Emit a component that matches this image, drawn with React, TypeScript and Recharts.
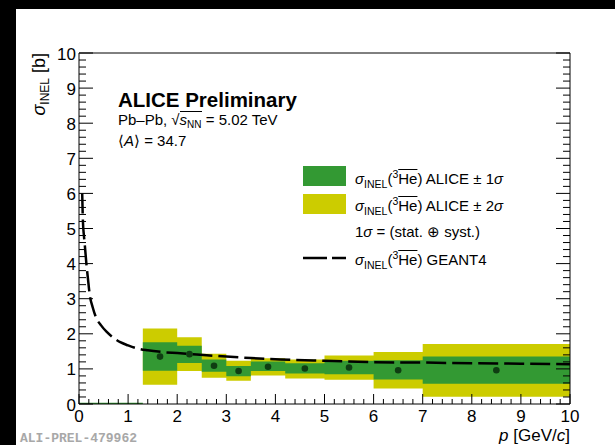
import React from 'react';
import { ComposedChart, XAxis, YAxis, Area, Line, Scatter, Legend } from 'recharts';

// ---------- data ----------
const binEdges = [1.3, 2.0, 2.5, 3.0, 3.5, 4.2, 5.0, 6.0, 7.0, 10.0];
const pointP = [1.65, 2.25, 2.75, 3.25, 3.85, 4.6, 5.5, 6.5, 8.5];
const sigmaValues = [1.35, 1.42, 1.09, 0.94, 1.06, 1.01, 1.04, 0.96, 0.96];
const band1Low = [0.95, 1.17, 0.92, 0.79, 0.94, 0.87, 0.85, 0.7, 0.58];
const band1High = [1.76, 1.66, 1.27, 1.08, 1.21, 1.16, 1.23, 1.25, 1.35];
const band2Low = [0.55, 0.94, 0.75, 0.66, 0.81, 0.73, 0.69, 0.44, 0.21];
const band2High = [2.15, 1.9, 1.43, 1.23, 1.3, 1.27, 1.38, 1.48, 1.71];

const geantP = [0.065, 0.08, 0.1, 0.12, 0.15, 0.18, 0.22, 0.28, 0.34, 0.45, 0.56, 0.7, 0.84, 1.0, 1.17, 1.4, 1.7, 2.0, 2.4, 3.0, 3.5, 4.1, 5.0, 5.5, 6.0, 7.0, 8.0, 9.0, 10.0];
const geantSigma = [6.0, 5.2, 4.8, 4.5, 4.0, 3.6, 3.1, 2.75, 2.49, 2.24, 2.06, 1.89, 1.76, 1.67, 1.59, 1.53, 1.48, 1.45, 1.41, 1.35, 1.31, 1.27, 1.23, 1.21, 1.19, 1.18, 1.16, 1.15, 1.13];

const emptyRangeP = [0, 1.3];
const emptyRangeValue = [0, 0];

const xMajorTicks = [0, 1, 2, 3, 4, 5, 6, 7, 8, 9, 10];
const yMajorTicks = [0, 1, 2, 3, 4, 5, 6, 7, 8, 9, 10];
const minorDivisions = 5;

// ---------- derived tables ----------
function withMinor(major: number[]) {
  const out: number[] = [];
  for (let i = 0; i < major.length; i++) {
    out.push(major[i]);
    if (i < major.length - 1) {
      const step = (major[i + 1] - major[i]) / minorDivisions;
      for (let k = 1; k < minorDivisions; k++) out.push(+(major[i] + k * step).toFixed(4));
    }
  }
  return out;
}
const xTicks = withMinor(xMajorTicks);
const yTicks = withMinor(yMajorTicks);

const bandRows = binEdges.map((p, i) => {
  const j = Math.min(i, sigmaValues.length - 1);
  return { p, one: [band1Low[j], band1High[j]], two: [band2Low[j], band2High[j]] };
});
const pointRows = pointP.map((p, i) => ({ p, s: sigmaValues[i] }));
const geantRows = geantP.map((p, i) => ({ p, s: geantSigma[i] }));
const emptyRows = emptyRangeP.map((p, i) => ({ p, s: emptyRangeValue[i] }));

// ---------- style ----------
const FONT = '"Liberation Sans", Arial, Helvetica, sans-serif';
const GREEN = '#339933';
const YELLOW = '#cccc00';
const DOT = '#0f3d12';

const isMajor = (v: number) => Math.abs(v - Math.round(v)) < 1e-6;

const BottomTick = (props: any) => {
  const { x, y, payload } = props;
  const v = payload.value;
  const major = isMajor(v);
  return (
    <g>
      <line x1={x} x2={x} y1={y} y2={y - (major ? 10 : 5)} stroke="#000" strokeWidth={1} />
      {major && (
        <text x={x} y={y + 18} textAnchor="middle" fontFamily={FONT} fontSize={17} fill="#000">
          {v}
        </text>
      )}
    </g>
  );
};
const TopTick = (props: any) => {
  const { x, y, payload } = props;
  const major = isMajor(payload.value);
  return <line x1={x} x2={x} y1={y} y2={y + (major ? 10 : 5)} stroke="#000" strokeWidth={1} />;
};
const LeftTick = (props: any) => {
  const { x, y, payload } = props;
  const v = payload.value;
  const major = isMajor(v);
  return (
    <g>
      <line x1={x} x2={x + (major ? 14 : 7)} y1={y} y2={y} stroke="#000" strokeWidth={1} />
      {major && (
        <text x={x - 3} y={y + 6.5} textAnchor="end" fontFamily={FONT} fontSize={17} fill="#000">
          {v}
        </text>
      )}
    </g>
  );
};
const RightTick = (props: any) => {
  const { x, y, payload } = props;
  const major = isMajor(payload.value);
  return <line x1={x} x2={x - (major ? 14 : 7)} y1={y} y2={y} stroke="#000" strokeWidth={1} />;
};

const sub = (t: string, size = 10.5, dy = 4) => (
  <span style={{ fontSize: size, position: 'relative', top: dy }}>{t}</span>
);
const sup = (t: string, size = 10.5, dy = -6) => (
  <span style={{ fontSize: size, position: 'relative', top: dy }}>{t}</span>
);

const HeLabel = ({ suffix }: { suffix: React.ReactNode }) => (
  <span>
    <i>σ</i>
    {sub('INEL')}(
    {sup('3')}
    <span style={{ textDecoration: 'overline' }}>He</span>) {suffix}
  </span>
);

const legendRow = (top: number, child: React.ReactNode) => (
  <div
    style={{
      position: 'absolute',
      left: 52,
      top,
      fontFamily: FONT,
      fontSize: 15,
      lineHeight: '15px',
      whiteSpace: 'nowrap',
      color: '#000',
    }}
  >
    {child}
  </div>
);

const LegendContent = () => (
  <div style={{ position: 'relative', width: 262, height: 112 }}>
    <div style={{ position: 'absolute', left: 0, top: 6, width: 43, height: 20, background: GREEN }} />
    <div style={{ position: 'absolute', left: 0, top: 34, width: 43, height: 20, background: YELLOW }} />
    <svg style={{ position: 'absolute', left: 0, top: 94 }} width={44} height={8}>
      <line x1={0} x2={43} y1={4} y2={4} stroke="#000" strokeWidth={2.5} strokeDasharray="24 5" />
    </svg>
    {legendRow(11.3, <HeLabel suffix={<>ALICE ± 1<i>σ</i></>} />)}
    {legendRow(38.3, <HeLabel suffix={<>ALICE ± 2<i>σ</i></>} />)}
    {legendRow(64.3, <span>1<i>σ</i> = (stat. ⊕ syst.)</span>)}
    {legendRow(92.3, <HeLabel suffix="GEANT4" />)}
  </div>
);

const textAt = (left: number, baseline: number, size: number, child: React.ReactNode, extra: any = {}) => (
  <div
    style={{
      position: 'absolute',
      left,
      top: baseline - 0.8465 * size,
      fontFamily: FONT,
      fontSize: size,
      lineHeight: `${size}px`,
      whiteSpace: 'nowrap',
      color: '#000',
      ...extra,
    }}
  >
    {child}
  </div>
);

export default function App() {
  return (
    <div style={{ position: 'absolute', left: 0, top: 0, width: 615, height: 445, background: '#000', overflow: 'hidden' }}>
      <div style={{ position: 'absolute', left: 16, top: 9, width: 599, height: 436, background: '#fff' }} />
      <div style={{ position: 'absolute', left: 0, top: 0 }}>
        <ComposedChart width={615} height={445} margin={{ top: 52, right: 44, bottom: 11, left: 19 }}>
          <Area
            data={bandRows}
            dataKey="two"
            type="stepAfter"
            fill={YELLOW}
            fillOpacity={1}
            stroke="none"
            dot={false}
            activeDot={false}
            isAnimationActive={false}
            legendType="none"
          />
          <Area
            data={bandRows}
            dataKey="one"
            type="stepAfter"
            fill={GREEN}
            fillOpacity={1}
            stroke="none"
            dot={false}
            activeDot={false}
            isAnimationActive={false}
            legendType="none"
          />
          <Line
            data={emptyRows}
            dataKey="s"
            type="linear"
            stroke={GREEN}
            strokeWidth={2.5}
            dot={false}
            activeDot={false}
            isAnimationActive={false}
            legendType="none"
          />
          <Line
            data={geantRows}
            dataKey="s"
            type="monotone"
            stroke="#000"
            strokeWidth={2.5}
            strokeDasharray="20 6"
            dot={false}
            activeDot={false}
            isAnimationActive={false}
            legendType="none"
          />
          <Scatter
            data={pointRows}
            dataKey="s"
            fill={DOT}
            isAnimationActive={false}
            legendType="none"
            shape={(p: any) => <circle cx={p.cx} cy={p.cy} r={3.3} fill={DOT} />}
          />
          <XAxis
            dataKey="p"
            type="number"
            domain={[0, 10]}
            ticks={xTicks}
            interval={0}
            tickSize={0}
            tickMargin={0}
            tickLine={false}
            tick={BottomTick}
            height={30}
            axisLine={{ stroke: '#000', strokeWidth: 1 }}
            allowDataOverflow
          />
          <XAxis
            xAxisId="top"
            orientation="top"
            type="number"
            domain={[0, 10]}
            ticks={xTicks}
            interval={0}
            tickSize={0}
            tickMargin={0}
            tickLine={false}
            tick={TopTick}
            height={1}
            axisLine={{ stroke: '#000', strokeWidth: 1 }}
            allowDataOverflow
          />
          <YAxis
            type="number"
            domain={[0, 10]}
            ticks={yTicks}
            interval={0}
            tickSize={0}
            tickMargin={0}
            tickLine={false}
            tick={LeftTick}
            width={60}
            axisLine={{ stroke: '#000', strokeWidth: 1 }}
            allowDataOverflow
          />
          <YAxis
            yAxisId="right"
            orientation="right"
            type="number"
            domain={[0, 10]}
            ticks={yTicks}
            interval={0}
            tickSize={0}
            tickMargin={0}
            tickLine={false}
            tick={RightTick}
            width={1}
            axisLine={{ stroke: '#000', strokeWidth: 1 }}
            allowDataOverflow
          />
          <Legend
            layout="vertical"
            align="center"
            verticalAlign="middle"
            wrapperStyle={{ left: 303, top: 160, width: 262, height: 112 }}
            content={() => <LegendContent />}
          />
        </ComposedChart>
      </div>

      {/* annotations */}
      {textAt(118, 107, 20.5, 'ALICE Preliminary', { fontWeight: 'bold' })}
      {textAt(
        118,
        124,
        15,
        <span>
          Pb–Pb, √
          <span style={{ display: 'inline-block', borderTop: '1px solid #000', lineHeight: '15px', height: 15 }}>
            <i>s</i>
            {sub('NN', 10, 3)}
          </span>{' '}
          = 5.02 TeV
        </span>
      )}
      {textAt(
        118,
        146,
        15,
        <span>
          ⟨<i>A</i>⟩ = 34.7
        </span>
      )}

      {/* y axis title */}
      <div
        style={{
          position: 'absolute',
          left: 45 - 0.8465 * 18,
          top: 153,
          width: 100,
          textAlign: 'right',
          transform: 'rotate(-90deg)',
          transformOrigin: '0 0',
          fontFamily: FONT,
          fontSize: 18,
          lineHeight: '18px',
          whiteSpace: 'nowrap',
          color: '#000',
        }}
      >
        <i>σ</i>
        {sub('INEL', 12, 4)} [b]
      </div>

      {/* x axis title */}
      <div
        style={{
          position: 'absolute',
          right: 45,
          top: 441.5 - 12.3,
          fontFamily: FONT,
          fontSize: 17,
          lineHeight: '13px',
          whiteSpace: 'nowrap',
          color: '#000',
        }}
      >
        <i>p</i> [GeV/<i>c</i>]
      </div>

      {/* watermark */}
      <div
        style={{
          position: 'absolute',
          left: 20,
          top: 441.5 - 7.97,
          fontFamily: '"Liberation Mono", "DejaVu Sans Mono", monospace',
          fontWeight: 'bold',
          fontSize: 13,
          lineHeight: '9px',
          whiteSpace: 'nowrap',
          color: '#a8a8a8',
        }}
      >
        ALI-PREL-479962
      </div>
    </div>
  );
}
